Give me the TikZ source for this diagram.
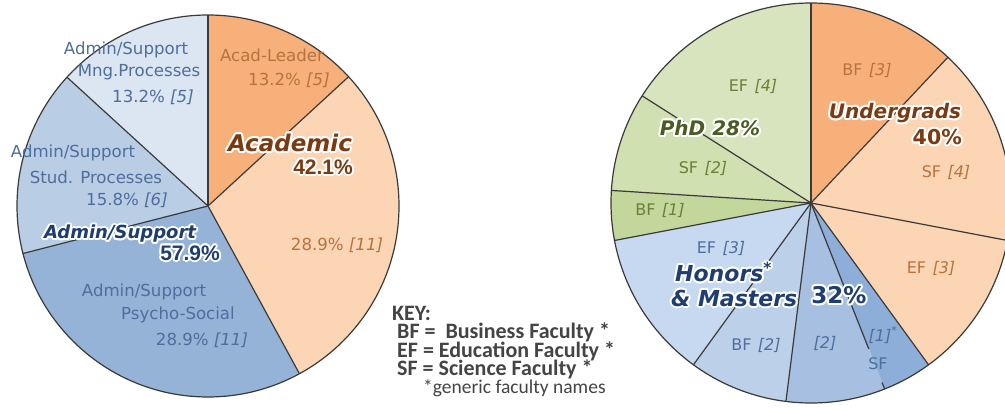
\documentclass[tikz,border=0pt]{standalone}
\usepackage{fontspec}
\setmainfont{DejaVu Sans}[ItalicFont={DejaVu Sans Oblique},BoldFont={DejaVu Sans Bold},BoldItalicFont={DejaVu Sans Bold Oblique}]
\newfontfamily\libsans{Liberation Sans}
\newfontfamily\carl{Carlito}
\usepackage{graphicx}
\definecolor{orM}{HTML}{F8B07B}
\definecolor{peach}{HTML}{FCD5B5}
\definecolor{bluM}{HTML}{95B3D7}
\definecolor{bluL}{HTML}{B9CDE5}
\definecolor{bluXL}{HTML}{DCE6F2}
\definecolor{grL}{HTML}{D7E4BD}
\definecolor{grL2}{HTML}{D1E0B0}
\definecolor{grM}{HTML}{C3D69B}
\definecolor{hbL}{HTML}{C6D9F0}
\definecolor{hbL2}{HTML}{BDD0EA}
\definecolor{hbM}{HTML}{A7BFE0}
\definecolor{hbD}{HTML}{8EAEDA}
\definecolor{edgec}{HTML}{3A3A3A}
\definecolor{txtOr}{HTML}{B8733D}
\definecolor{txtBl}{HTML}{4E6E9C}
\definecolor{txtGr}{HTML}{6A8038}
\definecolor{bigOr}{HTML}{7A3B12}
\definecolor{bigBl}{HTML}{1F3D70}
\definecolor{bigGr}{HTML}{4A5C22}
\definecolor{keyc}{HTML}{444444}
\newcommand\pieslice[5]{\fill[#5] (#1) -- ++(#2:#4) arc[start angle=#2,end angle=#3,radius=#4] -- cycle;}
\newcommand\halolabel[5]{%
  \foreach \ha in {0,30,...,330}{\node[#3,text=white,shift={(\ha:2pt)}] at (#2) {#5};}
  \node[#3,text=#4] (#1) at (#2) {#5};}
\tikzset{
  edgeline/.style={draw=edgec,line width=1.2pt},
  lab/.style={font=\fontsize{16.6}{18}\selectfont,inner sep=0pt},
  rlab/.style={font=\fontsize{16}{18}\selectfont,inner sep=0pt},
  bigw/.style={font=\fontsize{23}{25}\selectfont\bfseries\itshape,inner sep=0pt},
  bigws/.style={font=\fontsize{18}{20}\selectfont\bfseries\itshape,inner sep=0pt},
  bigp/.style={font=\fontsize{21}{23}\selectfont\libsans\bfseries,inner sep=0pt},
  rbigw/.style={font=\fontsize{20}{22}\selectfont\bfseries\itshape,inner sep=0pt},
  hbigw/.style={font=\fontsize{22}{24}\selectfont\bfseries\itshape,inner sep=0pt},
  rbigp/.style={font=\fontsize{23}{25}\selectfont\bfseries,inner sep=0pt},
  keyl/.style={font=\fontsize{22}{24}\selectfont\carl\bfseries,text=keyc,inner sep=0pt,anchor=west},
}
\begin{document}
\begin{tikzpicture}[x=1pt,y=1pt]
\useasboundingbox (0,0) rectangle (1005,410);
\clip (0,0) rectangle (1005,410);
\fill[white] (0,0) rectangle (1005,410);
\coordinate (L) at (208,204);
\coordinate (R) at (811,207);
% ---------- left pie ----------
\pieslice{L}{42.6}{90}{191pt}{orM}
\pieslice{L}{-61.4}{42.6}{191pt}{peach}
\pieslice{L}{-165.6}{-61.4}{191pt}{bluM}
\pieslice{L}{137.6}{194.4}{191pt}{bluL}
\pieslice{L}{90}{137.6}{191pt}{bluXL}
\foreach \a in {90,42.6,-61.4,-165.6,137.6}{\draw[edgeline] (L) -- ++(\a:191pt);}
\draw[edgeline] (L) circle[radius=191pt];
% ---------- right pie ----------
\pieslice{R}{46.8}{90}{200pt}{orM}
\pieslice{R}{-54}{46.8}{200pt}{peach}
\pieslice{R}{-68.4}{-54}{200pt}{hbD}
\pieslice{R}{-97.2}{-68.4}{200pt}{hbM}
\pieslice{R}{-126}{-97.2}{200pt}{hbL2}
\pieslice{R}{-169.2}{-126}{200pt}{hbL}
\pieslice{R}{176.4}{190.8}{200pt}{grM}
\pieslice{R}{147.6}{176.4}{200pt}{grL2}
\pieslice{R}{90}{147.6}{200pt}{grL}
\foreach \a in {90,46.8,-10.8,-54,-97.2,-126,-169.2,176.4,147.6}{\draw[edgeline] (R) -- ++(\a:200pt);}
\draw[edgeline] (R) -- ++(-68.4:157pt);
\draw[edgeline] ([shift={(-68.4:193pt)}]R) -- ([shift={(-68.4:200pt)}]R);
\draw[edgeline] (R) circle[radius=200pt];
% ---------- left labels ----------
\node[lab,text=txtBl] (mng1) at (126,360) {Admin/Support};
\node[lab,text=txtBl] (mng2) at (139,338) {Mng.Processes};
\node[lab,text=txtBl] (mng3) at (153,313) {13.2\% \textit{[5]}};
\node[lab,text=txtOr] (al1) at (272,355) {Acad-Leader};
\node[lab,text=txtOr] (al2) at (289,330) {13.2\% \textit{[5]}};
\node[lab,text=txtOr] (ac2) at (337,165) {28.9\% \textit{[11]}};
\node[lab,text=txtBl] (st1) at (73,257) {Admin/Support};
\node[lab,text=txtBl] (st2) at (96,233) {Stud. Processes};
\node[lab,text=txtBl] (st3) at (127,210) {15.8\% \textit{[6]}};
\node[lab,text=txtBl] (ps1) at (144,118) {Admin/Support};
\node[lab,text=txtBl] (ps2) at (178,95) {Psycho-Social};
\node[lab,text=txtBl] (ps3) at (202,70) {28.9\% \textit{[11]}};
\halolabel{acad}{290,267}{bigw}{bigOr}{Academic}
\halolabel{acadp}{353,243}{bigp,anchor=east}{bigOr}{42.1\%}
\halolabel{adm}{120,176}{bigws}{bigBl}{Admin/Support}
\halolabel{admp}{220,157}{bigp,anchor=east}{bigBl}{57.9\%}
% ---------- key ----------
\node[keyl] (key0) at (392,97) {KEY:};
\node[keyl] (key1) at (397,78) {BF =\ \ Business Faculty *};
\node[keyl] (key2) at (397,59) {EF = Education Faculty *};
\node[keyl] (key3) at (397,41) {SF = Science Faculty *};
\node[keyl,font=\fontsize{19.5}{21}\selectfont\carl] (key4) at (423,22) {*generic faculty names};
% ---------- right labels ----------
\node[rlab,text=txtOr] (u1) at (867,340) {BF\hspace{0.4em}\textit{[3]}};
\node[rlab,text=txtOr] (u2) at (946,238) {SF\hspace{0.4em}\textit{[4]}};
\node[rlab,text=txtOr] (u3) at (931,142) {EF\hspace{0.4em}\textit{[3]}};
\node[rlab,text=txtGr] (p1) at (753,324) {EF\hspace{0.4em}\textit{[4]}};
\node[rlab,text=txtGr] (p2) at (703,242) {SF\hspace{0.4em}\textit{[2]}};
\node[rlab,text=txtGr] (p3) at (660,200) {BF\hspace{0.4em}\textit{[1]}};
\node[rlab,text=txtBl] (h1) at (721,162) {EF\hspace{0.4em}\textit{[3]}};
\node[rlab,text=txtBl] (h2) at (756,65) {BF\hspace{0.4em}\textit{[2]}};
\node[rlab,text=txtBl] (h3) at (825,67) {\textit{[2]}};
\node[rlab,text=txtBl] (h4) at (883,75) {\textit{[1]}\textsuperscript{*}};
\node[rlab,text=txtBl] (h5) at (878,46) {SF};
\halolabel{ug}{895,297}{rbigw}{bigOr}{Undergrads}
\halolabel{ugp}{962,273}{rbigp,anchor=east,font=\fontsize{20.5}{23}\selectfont\bfseries}{bigOr}{40\%}
\halolabel{phd}{710,282}{rbigw}{bigGr}{PhD 28\%}
\halolabel{hon}{675,138}{hbigw,anchor=west}{bigBl}{Honors\textsuperscript{*}}
\halolabel{mas}{671,112}{hbigw,anchor=west}{bigBl}{\& Masters}
\halolabel{masp}{839,115}{rbigp}{bigBl}{32\%}
\end{tikzpicture}
\end{document}
